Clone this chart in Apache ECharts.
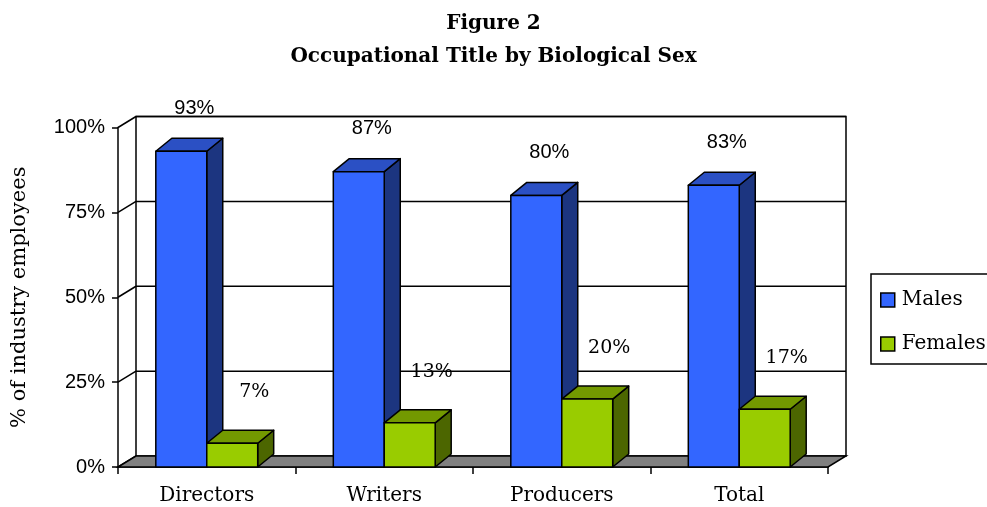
<!DOCTYPE html>
<html><head><meta charset="utf-8">
<script src="https://cdn.jsdelivr.net/npm/echarts@6/dist/echarts.min.js"></script>
<style>html,body{margin:0;padding:0;background:#fff}#c{width:987px;height:507px}</style>
</head><body><div id="c"></div>
<script>
var categories = ['Directors', 'Writers', 'Producers', 'Total'];
var males = [93, 87, 80, 83];
var females = [7, 13, 20, 17];
var yTicks = [0, 25, 50, 75, 100];

var SERIF = '"DejaVu Serif", serif';
var SANS = '"Liberation Sans", Arial, sans-serif';
var WALL_DX = 18, WALL_DY = -11;
var BAR_DX = 16, BAR_DY = -13;
var BAR_RATIO = 0.287;

var chart = echarts.init(document.getElementById('c'), null, {renderer: 'canvas'});

function wallRender(params, api) {
  var cs = params.coordSys;
  var x0 = cs.x, x1 = cs.x + cs.width;
  var children = [];
  var yTop = api.coord([0, 100])[1];
  var yBot = api.coord([0, 0])[1];
  children.push({type: 'polygon', shape: {points: [
    [x0 + WALL_DX, yTop + WALL_DY], [x1 + WALL_DX, yTop + WALL_DY],
    [x1 + WALL_DX, yBot + WALL_DY], [x0 + WALL_DX, yBot + WALL_DY]]},
    style: {fill: '#ffffff', stroke: '#000', lineWidth: 1.5}});
  yTicks.forEach(function (v) {
    var y = api.coord([0, v])[1];
    if (v > 0) {
      children.push({type: 'line', shape: {x1: x0 + WALL_DX, y1: y + WALL_DY, x2: x1 + WALL_DX, y2: y + WALL_DY},
        style: {stroke: '#000', lineWidth: 1.5}});
    }
    children.push({type: 'line', shape: {x1: x0, y1: y, x2: x0 + WALL_DX, y2: y + WALL_DY},
      style: {stroke: '#000', lineWidth: 1.5}});
  });
  children.push({type: 'polygon', shape: {points: [
    [x0, yBot], [x1, yBot], [x1 + WALL_DX, yBot + WALL_DY], [x0 + WALL_DX, yBot + WALL_DY]]},
    style: {fill: '#808080', stroke: '#000', lineWidth: 1.5}});
  return {type: 'group', children: children};
}

function makeBarRender(side, front, top, right, labelFont, labelDx, labelDy) {
  return function (params, api) {
    var cat = api.value(0), val = api.value(1);
    var p = api.coord([cat, val]);
    var base = api.coord([cat, 0]);
    var bw = api.size([1, 0])[0] * BAR_RATIO;
    var xl = side < 0 ? p[0] - bw : p[0];
    var xr = xl + bw;
    var yt = p[1], yb = base[1];
    var st = {stroke: '#000', lineWidth: 1.5, lineJoin: 'round'};
    return {type: 'group', children: [
      {type: 'polygon', shape: {points: [[xr, yt], [xr + BAR_DX, yt + BAR_DY], [xr + BAR_DX, yb + BAR_DY], [xr, yb]]},
        style: Object.assign({fill: right}, st)},
      {type: 'polygon', shape: {points: [[xl, yt], [xl + BAR_DX, yt + BAR_DY], [xr + BAR_DX, yt + BAR_DY], [xr, yt]]},
        style: Object.assign({fill: top}, st)},
      {type: 'rect', shape: {x: xl, y: yt, width: bw, height: yb - yt},
        style: Object.assign({fill: front}, st)},
      {type: 'text', x: (xl + xr) / 2 + BAR_DX / 2 + labelDx, y: yt + BAR_DY - labelDy,
        style: {text: Math.round(val) + '%', font: labelFont, fill: '#000', align: 'center', verticalAlign: 'middle'}}
    ]};
  };
}

var option = {
  backgroundColor: '#ffffff',
  animation: false,
  title: {
    text: 'Figure 2\nOccupational Title by Biological Sex',
    left: 'center', top: 2,
    textStyle: {fontFamily: SERIF, fontWeight: 'bold', fontSize: 20, lineHeight: 33, color: '#000'}
  },
  legend: {
    orient: 'vertical', left: 871, top: 274,
    padding: [16, 30, 10, 9],
    itemWidth: 14, itemHeight: 14, itemGap: 24,
    borderColor: '#000', borderWidth: 1.5,
    textStyle: {fontFamily: SERIF, fontSize: 20, color: '#000', padding: [0, 0, 0, 2]},
    data: [
      {name: 'Males', icon: 'rect', itemStyle: {color: '#3366FF', borderColor: '#000', borderWidth: 1.5}},
      {name: 'Females', icon: 'rect', itemStyle: {color: '#99CC00', borderColor: '#000', borderWidth: 1.5}}
    ]
  },
  grid: {left: 118, right: 159, top: 127.5, bottom: 40, containLabel: false},
  xAxis: {
    type: 'category', data: categories, boundaryGap: true,
    axisLine: {show: true, lineStyle: {color: '#000', width: 1.5}},
    axisTick: {show: true, alignWithLabel: false, length: 7, lineStyle: {color: '#000', width: 1.5}},
    axisLabel: {margin: 19, fontFamily: SERIF, fontSize: 20, color: '#000'},
    splitLine: {show: false}
  },
  yAxis: {
    type: 'value', min: 0, max: 100, interval: 25,
    name: '% of industry employees', nameLocation: 'middle', nameRotate: 90, nameGap: 88,
    nameTextStyle: {fontFamily: SERIF, fontSize: 21, color: '#000'},
    axisLine: {show: true, lineStyle: {color: '#000', width: 1.5}},
    axisTick: {show: true, length: 6, lineStyle: {color: '#000', width: 1.5}},
    axisLabel: {margin: 13, fontFamily: SANS, fontSize: 20, color: '#000', formatter: '{value}%'},
    splitLine: {show: false}
  },
  series: [
    {type: 'custom', name: 'walls', silent: true, z: 1, renderItem: wallRender, data: [[0, 0]]},
    {type: 'custom', name: 'Males', z: 3, itemStyle: {color: '#3366FF'},
      renderItem: makeBarRender(-1, '#3366FF', '#2B50C4', '#1C3580', '20px ' + SANS, 5, 30),
      data: males.map(function (v, i) { return [i, v]; })},
    {type: 'custom', name: 'Females', z: 4, itemStyle: {color: '#99CC00'},
      renderItem: makeBarRender(1, '#99CC00', '#739900', '#4C6600', '19px ' + SERIF, 14, 38),
      data: females.map(function (v, i) { return [i, v]; })}
  ]
};
chart.setOption(option);
</script></body></html>
